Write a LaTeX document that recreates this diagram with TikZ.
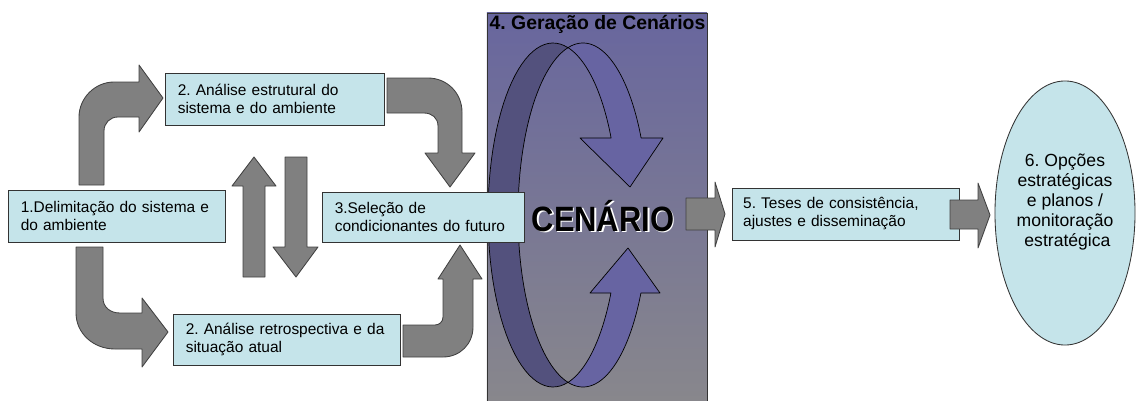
\documentclass[tikz,border=0pt]{standalone}
\usepackage{fontspec}
\setmainfont{Liberation Sans}
\usetikzlibrary{shapes.geometric, positioning, calc}
\frenchspacing

\definecolor{boxcyan}{RGB}{197,228,234}
\definecolor{arrowgray}{RGB}{128,128,128}
\definecolor{scentop}{RGB}{104,102,158}
\definecolor{scenbot}{RGB}{136,135,140}
\definecolor{ribbonfront}{RGB}{103,100,162}
\definecolor{ribbonback}{RGB}{83,81,125}

\begin{document}
\begin{tikzpicture}[
    x=0.025cm, y=-0.025cm,
    font=\fontsize{11}{12.8}\selectfont,
    % boxes and arrows
    stepbox/.style={draw=black!80, fill=boxcyan, line width=0.6pt, align=left, inner xsep=0.32cm, inner ysep=0pt},
    goalbox/.style={ellipse, draw=black!80, fill=boxcyan, line width=0.6pt, align=center, inner sep=0pt, minimum width=3.5cm, minimum height=6.6cm, font=\fontsize{12.5}{14.2}\selectfont},
    scenbox/.style={draw=black!80, line width=0.6pt, top color=scentop, bottom color=scenbot, minimum width=5.5cm, minimum height=9.7cm, inner sep=0pt},
    blockarrow/.style={draw=black!75, fill=arrowgray, line width=0.6pt, line join=round},
    ribbon/.style={draw=black, line width=0.5pt, line join=round}
]
\useasboundingbox (0,0) rectangle (1138,401);

% ========== 4. Scenario generation ==========
\node[scenbox] (scen) at (597,207) {};
\node[anchor=north west, font=\fontsize{13.8}{15}\selectfont\bfseries, inner sep=2pt] (scentitle) at (scen.north west) {4. Geração de Cenários};

% ribbon: back band
\draw[ribbon, fill=ribbonback]
  plot[domain=-76.66:-283.34, samples=60] ({553+65*cos(\x)}, {215+172*sin(\x)})
  -- plot[domain=103.34:256.66, samples=60] ({583+65*cos(\x)}, {215+172*sin(\x)}) -- cycle;
% ribbon: upper front band
\draw[ribbon, fill=ribbonfront]
  plot[domain=-103.34:-26.6, samples=50] ({583+65*cos(\x)}, {215+172*sin(\x)})
  -- (663,138) -- (630,187) -- (580,138)
  -- plot[domain=-26.6:-76.66, samples=30] ({553+65*cos(\x)}, {215+172*sin(\x)}) -- cycle;
% ribbon: lower front band
\draw[ribbon, fill=ribbonfront]
  plot[domain=76.66:26.97, samples=30] ({553+65*cos(\x)}, {215+172*sin(\x)})
  -- (590,293) -- (628,248) -- (660,293)
  -- plot[domain=26.97:103.34, samples=50] ({583+65*cos(\x)}, {215+172*sin(\x)}) -- cycle;

\node[font=\fontsize{25}{25}\selectfont\bfseries, text=white] at (604.5,217.5) {\scalebox{0.88}[1]{CENÁRIO}};
\node[font=\fontsize{25}{25}\selectfont\bfseries] (cenario) at (603,216) {\scalebox{0.88}[1]{CENÁRIO}};

% ========== Steps ==========
\node[stepbox, text width=4.785cm, minimum height=1.3cm] (delim) at (116.5,216) {1.Delimitação do sistema e\\do ambiente};
\node[stepbox, text width=4.835cm, minimum height=1.3cm] (estrut) at (274.5,99) {2. Análise estrutural do\\sistema e do ambiente};
\node[stepbox, text width=5.035cm, minimum height=1.275cm] (retro) at (286.5,339.5) {2. Análise retrospectiva e da\\situação atual};
\node[stepbox, text width=4.41cm, minimum height=1.25cm] (selec) at (423,217) {3.Seleção de\\condicionantes do futuro};
\node[stepbox, text width=5.115cm, minimum height=1.3cm, inner xsep=0.28cm] (teses) at (845.5,214) {5. Teses de consistência,\\ajustes e disseminação};
\node[goalbox] (opcoes) at (1065,213) {6. Opções\\estratégicas\\e planos /\\monitoração\\\ estratégica\\[4pt]};

% ========== Block arrows ==========
% delim -> estrut
\draw[blockarrow] (79,185) -- (79,117) .. controls (79,98) and (95,82) .. (114,82) -- (139,82) -- (139,65) -- (163,98) -- (139,132) -- (139,117) -- (118,117) .. controls (110,117) and (104,123) .. (104,131) -- (104,185) -- cycle;
% delim -> retro
\draw[blockarrow] (76,247) -- (76,313) .. controls (76,333) and (93,349) .. (115,349) -- (142,349) -- (142,367) -- (168,332) -- (142,298) -- (142,313) -- (120,313) .. controls (110,313) and (103,307) .. (103,298) -- (103,247) -- cycle;
% estrut -> selec
\draw[blockarrow] (387,78) -- (428,78) .. controls (447,78) and (462,93) .. (462,112) -- (462,153) -- (475,153) -- (450,187) -- (425,153) -- (438,153) -- (438,126) .. controls (438,118) and (432,113) .. (424,113) -- (387,113) -- cycle;
% retro -> selec
\draw[blockarrow] (403,357) -- (443,357) .. controls (460,357) and (473,344) .. (473,327) -- (473,279) -- (482,279) -- (460,245) -- (438,279) -- (443,279) -- (443,317) .. controls (443,322) and (439,325) .. (435,325) -- (403,325) -- cycle;
% up and down between the rows
\draw[blockarrow] (243,277) -- (243,186) -- (232,186) -- (254,157) -- (276,186) -- (265,186) -- (265,277) -- cycle;
\draw[blockarrow] (285,157) -- (307,157) -- (307,247) -- (318,247) -- (296,277) -- (273,247) -- (285,247) -- cycle;
% scen -> teses
\draw[blockarrow] (686,198) -- (715,198) -- (715,182) -- (725,214) -- (715,247) -- (715,230) -- (686,230) -- cycle;
% teses -> opcoes
\draw[blockarrow] (950,200) -- (978,200) -- (978,183) -- (990,215) -- (978,248) -- (978,229) -- (950,229) -- cycle;

\end{tikzpicture}
\end{document}
